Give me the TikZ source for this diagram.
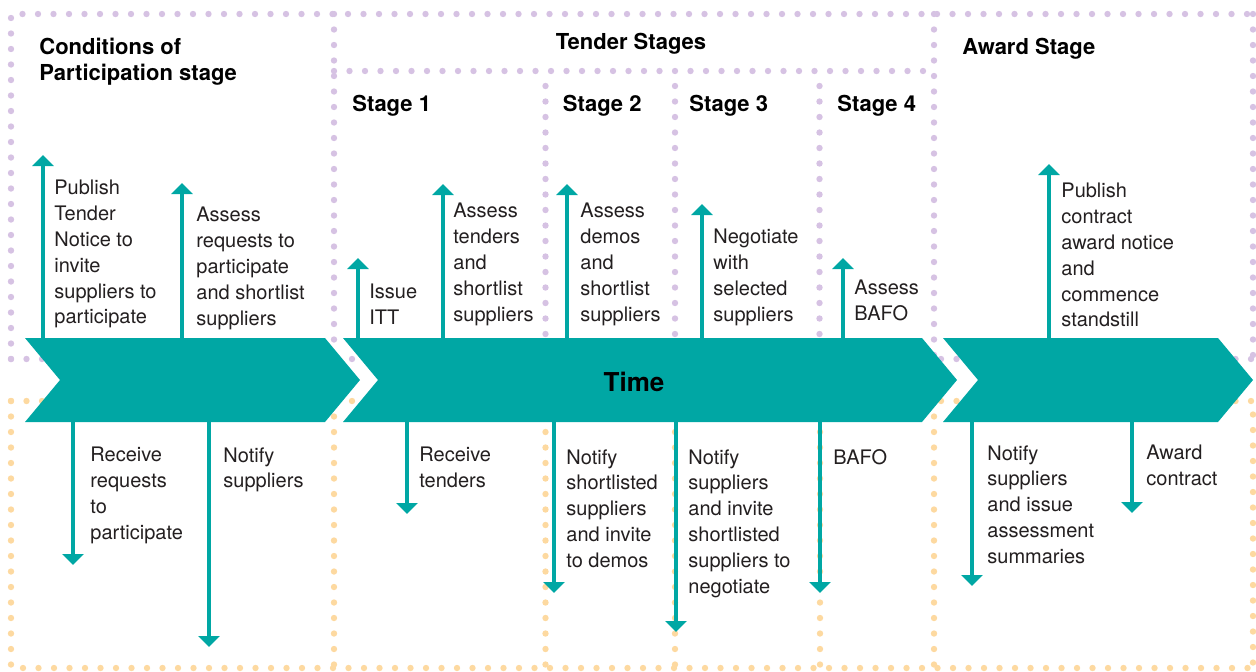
\documentclass[tikz,border=0pt]{standalone}
\usepackage{fontspec}
\setmainfont{TeX Gyre Heros}
\usetikzlibrary{arrows.meta}
\definecolor{timeteal}{RGB}{0,167,164}
\definecolor{dotlilac}{RGB}{214,194,227}
\definecolor{dotpeach}{RGB}{253,217,160}
\definecolor{inkgrey}{RGB}{35,31,32}
\tikzset{
  lilac/.style={draw=dotlilac,line width=3.2pt,line cap=round,dash pattern=on 0pt off 7.75pt},
  peach/.style={draw=dotpeach,line width=3.2pt,line cap=round,dash pattern=on 0pt off 7.75pt},
  event/.style={draw=timeteal,line width=1.8pt,-{Triangle[width=10.5pt,length=5.5pt]}},
  txt/.style={anchor=north west,inner sep=0pt,align=left,text=inkgrey,font=\fontsize{10}{12.9}\selectfont},
  head/.style={anchor=north west,inner sep=0pt,align=left,font=\bfseries\fontsize{11}{13}\selectfont}
}

\begin{document}
\begin{tikzpicture}[x=0.5pt,y=-0.5pt]
  \useasboundingbox(0,0)rectangle(1256,671);
  % stage frames
  \draw[lilac](11,359)--(11,14)--(1256,14);
  \draw[lilac](11,359)--(1253,359);
  \draw[lilac](1253,14)--(1253,359);
  \draw[lilac](334,14)--(334,359);
  \draw[lilac](934,14)--(934,359);
  \draw[lilac](334,71)--(934,71);
  \draw[lilac](545.5,86)--(545.5,359);
  \draw[lilac](675,86)--(675,359);
  \draw[lilac](819.5,86)--(819.5,359);
  \draw[peach](11,401)--(11,668)--(1256,668);
  \draw[peach](11,401)--(1253,401)--(1253,668);
  \draw[peach](334,401)--(334,668);
  \draw[peach](545.5,401)--(545.5,668);
  \draw[peach](675,401)--(675,668);
  \draw[peach](820,401)--(820,668);
  \draw[peach](934,401)--(934,668);
  % time band
  \fill[timeteal](25,338)--(325,338)--(360,380)--(325,422)--(25,422)--(60,380)--cycle;
  \fill[timeteal](343,338)--(922,338)--(957,380)--(922,422)--(343,422)--(378,380)--cycle;
  \fill[timeteal](943,338)--(1218,338)--(1253,380)--(1218,422)--(943,422)--(978,380)--cycle;
  \coordinate(T) at (0,340);
  \coordinate(B) at (0,420);
  \node[anchor=north,inner sep=0pt,font=\bfseries\fontsize{13}{15}\selectfont](time) at (634,372){Time};
  % headings
  \node[head](cop) at (39,38){Conditions of\\Participation stage};
  \node[head,anchor=north](ts) at (631,33){Tender Stages};
  \node[head](aw) at (962,38){Award Stage};
  \node[head](s1) at (352,95){Stage 1};
  \node[head](s2) at (562.5,95){Stage 2};
  \node[head](s3) at (689,95){Stage 3};
  \node[head](s4) at (837,95){Stage 4};
  % events above the band
  \coordinate(a1) at (43,155);
  \coordinate(a2) at (182,183);
  \coordinate(a3) at (358,258);
  \coordinate(a4) at (443,184);
  \coordinate(a5) at (567,184);
  \coordinate(a6) at (702,204);
  \coordinate(a7) at (843,258);
  \coordinate(a8) at (1049,164);
  \draw[event](a1|-T)--(a1);
  \draw[event](a2|-T)--(a2);
  \draw[event](a3|-T)--(a3);
  \draw[event](a4|-T)--(a4);
  \draw[event](a5|-T)--(a5);
  \draw[event](a6|-T)--(a6);
  \draw[event](a7|-T)--(a7);
  \draw[event](a8|-T)--(a8);
  \node[txt](t1) at (54,180){Publish\\Tender\\Notice to\\invite\\suppliers to\\participate};
  \node[txt](t2) at (196,207){Assess\\requests to\\participate\\and shortlist\\suppliers};
  \node[txt](t3) at (369,284){Issue\\ITT};
  \node[txt](t4) at (453,203){Assess\\tenders\\and\\shortlist\\suppliers};
  \node[txt](t5) at (580,203){Assess\\demos\\and\\shortlist\\suppliers};
  \node[txt](t6) at (713,229){Negotiate\\with\\selected\\suppliers};
  \node[txt](t7) at (854,280){Assess\\BAFO};
  \node[txt](t8) at (1061,183){Publish\\contract\\award notice\\and\\commence\\standstill};
  % events below the band
  \coordinate(b1) at (73,565);
  \coordinate(b2) at (209,647);
  \coordinate(b3) at (407,514);
  \coordinate(b4) at (554,593);
  \coordinate(b5) at (676,632);
  \coordinate(b6) at (820,593);
  \coordinate(b7) at (972,586);
  \coordinate(b8) at (1132,513);
  \draw[event](b1|-B)--(b1);
  \draw[event](b2|-B)--(b2);
  \draw[event](b3|-B)--(b3);
  \draw[event](b4|-B)--(b4);
  \draw[event](b5|-B)--(b5);
  \draw[event](b6|-B)--(b6);
  \draw[event](b7|-B)--(b7);
  \draw[event](b8|-B)--(b8);
  \node[txt](r1) at (90,447){Receive\\requests\\to\\participate};
  \node[txt](r2) at (223,447){Notify\\suppliers};
  \node[txt](r3) at (419,447){Receive\\tenders};
  \node[txt](r4) at (566,449){Notify\\shortlisted\\suppliers\\and invite\\to demos};
  \node[txt](r5) at (688,449){Notify\\suppliers\\and invite\\shortlisted\\suppliers to\\negotiate};
  \node[txt](r6) at (833,449){BAFO};
  \node[txt](r7) at (987,445){Notify\\suppliers\\and issue\\assessment\\summaries};
  \node[txt](r8) at (1146,445){Award\\contract};
\end{tikzpicture}
\end{document}
